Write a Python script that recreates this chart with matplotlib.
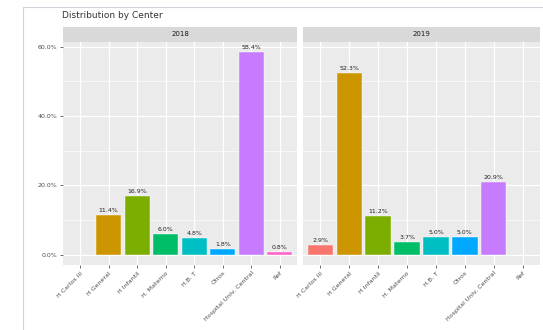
import matplotlib.pyplot as plt
from matplotlib.lines import Line2D
from matplotlib.ticker import FuncFormatter, MultipleLocator

centers = ['H Carlos III', 'H General', 'H Infantil', 'H. Materno', 'H.B. T',
           'Otros', 'Hospital Univ. Central', 'Ref']
colors = ['#F8766D', '#CD9600', '#7CAE00', '#00BE67', '#00BFC4',
          '#00A9FF', '#C77CFF', '#FF61CC']
years = ['2018', '2019']
pct_2018 = [None, 11.4, 16.9, 6.0, 4.8, 1.8, 58.4, 0.8]
pct_2019 = [2.9, 52.3, 11.2, 3.7, 5.0, 5.0, 20.9, None]

fig = plt.figure(figsize=(5.43, 3.30), dpi=100)
fig.patch.set_facecolor('white')

# screenshot frame
fig.add_artist(Line2D([23/543, 23/543], [0, 1 - 7/330], color='#d0d4dc', lw=0.8))
fig.add_artist(Line2D([23/543, 1], [1 - 7/330, 1 - 7/330], color='#d0d4dc', lw=0.8))

fig.text(62/543, 1 - 16/330, 'Distribution by Center', fontsize=6.5, color='#333333',
         va='center', ha='left')

bottom, top = 1 - 265/330, 1 - 42/330
strip_h = 15/330
panels = [(63/543, 297/543), (303/543, 540/543)]
x = list(range(len(centers)))

for k, (vals, yr) in enumerate(zip([pct_2018, pct_2019], years)):
    l, r = panels[k]
    ax = fig.add_axes([l, bottom, r - l, top - bottom])
    ax.set_facecolor('#EBEBEB')
    for s in ax.spines.values():
        s.set_visible(False)
    ax.set_ylim(-2.92, 61.3)
    ax.set_xlim(-0.6, len(centers) - 0.4)
    ax.yaxis.set_major_locator(MultipleLocator(20))
    ax.yaxis.set_minor_locator(MultipleLocator(10))
    ax.grid(which='major', color='white', lw=0.9)
    ax.grid(which='minor', axis='y', color='white', lw=0.45)
    ax.set_axisbelow(True)
    ax.set_xticks(x)
    ax.set_xticklabels(centers, rotation=45, ha='right', rotation_mode='anchor',
                       fontsize=4.5, color='#4D4D4D')
    ax.tick_params(axis='both', length=2, color='#333333', width=0.5, pad=2)
    ax.tick_params(which='minor', length=0)
    if k == 0:
        ax.yaxis.set_major_formatter(FuncFormatter(lambda v, p: f'{v:.1f}%'))
        ax.tick_params(axis='y', labelsize=4.5, labelcolor='#4D4D4D')
    else:
        ax.tick_params(axis='y', labelleft=False, length=0)
    for i, v in enumerate(vals):
        if v is None:
            continue
        ax.bar(i, v, width=0.88, color=colors[i], edgecolor='white', linewidth=0.3)
        ax.text(i, v + 0.6, f'{v:.1f}%', ha='center', va='bottom', fontsize=4.5,
                color='#222222')
    sax = fig.add_axes([l, top, r - l, strip_h])
    sax.set_facecolor('#D9D9D9')
    sax.set_xticks([])
    sax.set_yticks([])
    for s in sax.spines.values():
        s.set_visible(False)
    sax.text(0.5, 0.5, yr, ha='center', va='center', fontsize=5, color='#1A1A1A',
             transform=sax.transAxes)

fig.savefig('out.png', dpi=100)
